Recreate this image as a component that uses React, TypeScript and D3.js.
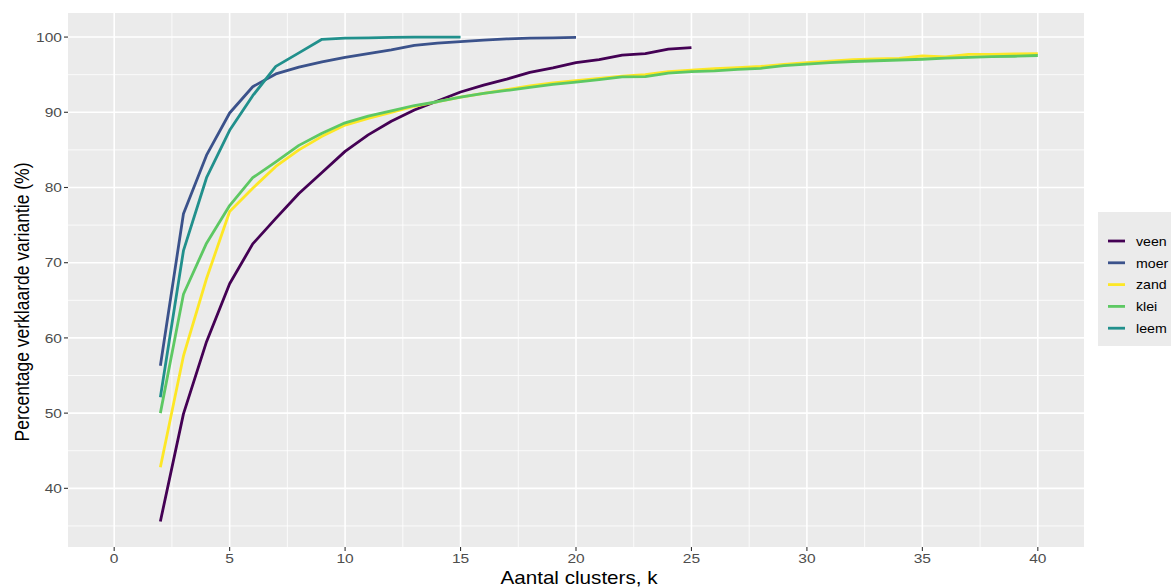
import React from "react";
import * as d3 from "d3";

const seriesNames = ["veen", "moer", "zand", "klei", "leem"];
const seriesColors = ["#440154", "#3B528B", "#FDE725", "#5DC863", "#21908C"];

const veenK = d3.range(2, 26);
const veenVals = [35.6, 49.9, 59.5, 67.2, 72.5, 75.9, 79.2, 82.0, 84.8, 87.0, 88.8, 90.3, 91.5, 92.7, 93.6, 94.4, 95.3, 95.9, 96.6, 97.0, 97.6, 97.8, 98.4, 98.6];

const moerK = d3.range(2, 21);
const moerVals = [56.3, 76.5, 84.3, 89.9, 93.4, 95.1, 96.0, 96.7, 97.3, 97.8, 98.3, 98.9, 99.2, 99.4, 99.6, 99.75, 99.85, 99.9, 99.95];

const zandK = d3.range(2, 41);
const zandVals = [42.8, 57.6, 67.9, 76.8, 79.9, 82.8, 85.0, 86.8, 88.3, 89.2, 90.0, 90.8, 91.4, 92.0, 92.5, 93.0, 93.5, 93.9, 94.2, 94.5, 94.8, 95.0, 95.4, 95.6, 95.8, 95.95, 96.1, 96.35, 96.6, 96.8, 97.0, 97.1, 97.15, 97.5, 97.35, 97.7, 97.7, 97.75, 97.8];

const kleiK = d3.range(2, 41);
const kleiVals = [50.0, 65.8, 72.6, 77.6, 81.3, 83.4, 85.6, 87.2, 88.6, 89.5, 90.2, 90.9, 91.4, 92.0, 92.5, 92.9, 93.3, 93.7, 94.0, 94.35, 94.7, 94.75, 95.2, 95.4, 95.5, 95.7, 95.85, 96.2, 96.4, 96.6, 96.75, 96.85, 96.95, 97.05, 97.2, 97.3, 97.4, 97.45, 97.55];

const leemK = d3.range(2, 16);
const leemVals = [52.1, 71.6, 81.3, 87.6, 92.2, 96.1, 97.9, 99.7, 99.85, 99.9, 99.95, 100.0, 100.0, 100.0];

const xTicks = [0, 5, 10, 15, 20, 25, 30, 35, 40];
const xMinor = [2.5, 7.5, 12.5, 17.5, 22.5, 27.5, 32.5, 37.5];
const yTicks = [40, 50, 60, 70, 80, 90, 100];
const yMinor = [35, 45, 55, 65, 75, 85, 95];

const xLabel = "Aantal clusters, k";
const yLabel = "Percentage verklaarde variantie (%)";

const FONT = "'Liberation Sans', Arial, sans-serif";
const SX = 1.15;

export default function App() {
  const W = 1171, H = 588;
  const panel = { left: 68, top: 13, right: 1084, bottom: 547 };
  const x = d3.scaleLinear().domain([-2, 42]).range([panel.left, panel.right]);
  const y = d3.scaleLinear().domain([32.2, 103.2]).range([panel.bottom, panel.top]);

  const series = [
    { name: seriesNames[0], color: seriesColors[0], k: veenK, v: veenVals },
    { name: seriesNames[1], color: seriesColors[1], k: moerK, v: moerVals },
    { name: seriesNames[2], color: seriesColors[2], k: zandK, v: zandVals },
    { name: seriesNames[3], color: seriesColors[3], k: kleiK, v: kleiVals },
    { name: seriesNames[4], color: seriesColors[4], k: leemK, v: leemVals },
  ];

  const line = d3
    .line<[number, number]>()
    .x((d) => x(d[0]))
    .y((d) => y(d[1]));

  const legendX = 1098, legendY = 212;
  const legendStep = 21.8;

  return (
    <svg width={W} height={H} style={{ position: "absolute", left: 0, top: 0 }} fontFamily={FONT}>
      <rect x={0} y={0} width={W} height={H} fill="#FFFFFF" />
      <rect x={panel.left} y={panel.top} width={panel.right - panel.left} height={panel.bottom - panel.top} fill="#EBEBEB" />
      {xMinor.map((t) => (
        <line key={"xm" + t} x1={x(t)} x2={x(t)} y1={panel.top} y2={panel.bottom} stroke="#FFFFFF" strokeWidth={0.8} />
      ))}
      {yMinor.map((t) => (
        <line key={"ym" + t} x1={panel.left} x2={panel.right} y1={y(t)} y2={y(t)} stroke="#FFFFFF" strokeWidth={0.8} />
      ))}
      {xTicks.map((t) => (
        <line key={"xg" + t} x1={x(t)} x2={x(t)} y1={panel.top} y2={panel.bottom} stroke="#FFFFFF" strokeWidth={1.6} />
      ))}
      {yTicks.map((t) => (
        <line key={"yg" + t} x1={panel.left} x2={panel.right} y1={y(t)} y2={y(t)} stroke="#FFFFFF" strokeWidth={1.6} />
      ))}
      {series.map((s) => (
        <path
          key={s.name}
          d={line(s.k.map((k, i) => [k, s.v[i]] as [number, number])) || ""}
          fill="none"
          stroke={s.color}
          strokeWidth={2.8}
          strokeLinejoin="round"
        />
      ))}
      {xTicks.map((t) => (
        <g key={"xt" + t}>
          <line x1={x(t)} x2={x(t)} y1={panel.bottom} y2={panel.bottom + 4} stroke="#333333" strokeWidth={1.1} />
          <text
            transform={`translate(${x(t)}, ${panel.bottom + 16}) scale(${SX},1)`}
            textAnchor="middle"
            fontSize={13.5}
            fill="#4D4D4D"
          >
            {t}
          </text>
        </g>
      ))}
      {yTicks.map((t) => (
        <g key={"yt" + t}>
          <line x1={panel.left - 4} x2={panel.left} y1={y(t)} y2={y(t)} stroke="#333333" strokeWidth={1.1} />
          <text
            transform={`translate(${panel.left - 6}, ${y(t)}) scale(${SX},1)`}
            dy="0.35em"
            textAnchor="end"
            fontSize={13.5}
            fill="#4D4D4D"
          >
            {t}
          </text>
        </g>
      ))}
      <text
        transform={`translate(${(panel.left + panel.right) / 2 + 3}, 584) scale(1.18,1)`}
        textAnchor="middle"
        fontSize={17.5}
        fill="#000000"
      >
        {xLabel}
      </text>
      <text
        transform={`translate(29, 302) scale(1.18,1) rotate(-90)`}
        textAnchor="middle"
        fontSize={17.5}
        fill="#000000"
      >
        {yLabel}
      </text>
      <rect x={legendX} y={legendY} width={W - legendX + 10} height={134} fill="#EBEBEB" />
      {series.map((s, i) => {
        const cy = legendY + 29 + i * legendStep;
        return (
          <g key={"lg" + s.name}>
            <line x1={legendX + 10} x2={legendX + 27} y1={cy} y2={cy} stroke={s.color} strokeWidth={2.8} />
            <text
              transform={`translate(${legendX + 38}, ${cy}) scale(1.05,1)`}
              dy="0.35em"
              fontSize={13.5}
              fill="#000000"
            >
              {s.name}
            </text>
          </g>
        );
      })}
    </svg>
  );
}
